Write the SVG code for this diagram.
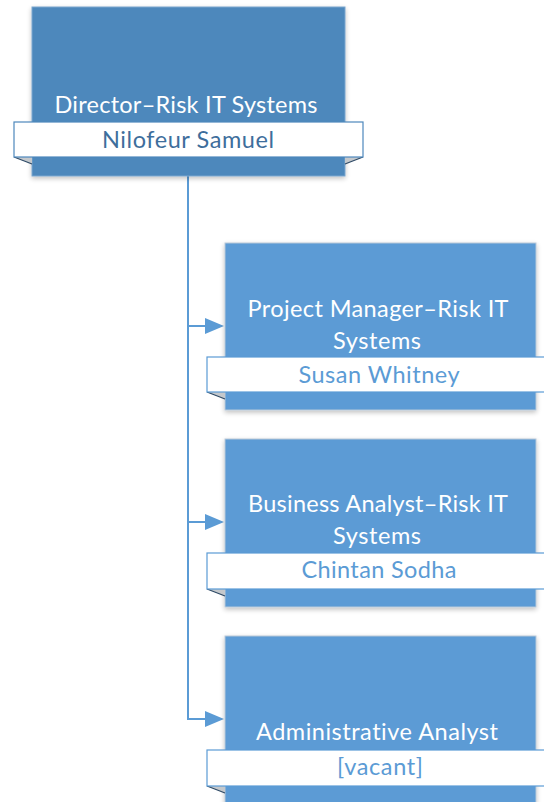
<svg xmlns="http://www.w3.org/2000/svg" width="544" height="802" viewBox="0 0 544 802">
<defs>
<filter id="sh" x="-10%" y="-10%" width="120%" height="120%">
<feGaussianBlur in="SourceAlpha" stdDeviation="2.5"/>
<feOffset dx="0" dy="1.5" result="b"/>
<feComponentTransfer><feFuncA type="linear" slope="0.25"/></feComponentTransfer>
<feMerge><feMergeNode/><feMergeNode in="SourceGraphic"/></feMerge>
</filter>
<marker id="arr" viewBox="0 0 10 10" refX="0" refY="5" markerUnits="userSpaceOnUse" markerWidth="19" markerHeight="16" preserveAspectRatio="none" orient="auto">
<path d="M0 0 L10 5 L0 10 Z" fill="#5B9BD5"/>
</marker>
</defs>
<style>
.dir{fill:#4E88BC;stroke:#7AA6CE;stroke-width:1}
.box{fill:#5B9BD5;stroke:#B8C8D8;stroke-width:1}
.plate{fill:#FFFFFF;stroke:#5B9BD5;stroke-width:1.2}
.dplate{fill:#FFFFFF;stroke:#4E88BC;stroke-width:1.2}
.fold{fill:#C4C8CC;stroke:none}
.foldl{stroke:#2E4A66;stroke-width:1.2;fill:none}
text{font-family:Lato,"Open Sans","Liberation Sans",sans-serif;font-size:23.5px;text-anchor:middle;font-variant-ligatures:none}
.t{fill:#FFFFFF}
.dn{fill:#3E6E9C}
.n{fill:#5B9BD5}
.conn{fill:none;stroke:#5B9BD5;stroke-width:2}
</style>
<g id="connectors">
<path class="conn" d="M188 176 V719"/>
<path class="conn" d="M187 326 H205" marker-end="url(#arr)"/>
<path class="conn" d="M187 522 H205" marker-end="url(#arr)"/>
<path class="conn" d="M187 719 H205" marker-end="url(#arr)"/>
</g>
<g id="director">
<rect class="dir" x="32" y="7" width="313" height="169" filter="url(#sh)"/>
<polygon class="fold" points="14,157 32,157 32,164"/>
<line class="foldl" x1="14" y1="157" x2="32" y2="164"/>
<polygon class="fold" points="363,157 345,157 345,164"/>
<line class="foldl" x1="363" y1="157" x2="345" y2="164"/>
<rect class="dplate" x="14" y="122" width="349" height="35"/>
<text class="t" x="186" y="113" textLength="263">Director–Risk IT Systems</text>
<text class="dn" x="188" y="148" textLength="172">Nilofeur Samuel</text>
</g>
<g id="pm">
<rect class="box" x="225" y="243" width="311" height="167" filter="url(#sh)"/>
<polygon class="fold" points="207,392 225,392 225,399"/>
<line class="foldl" x1="207" y1="392" x2="225" y2="399"/>
<rect class="plate" x="207" y="357" width="347" height="35"/>
<text class="t" x="378" y="317" textLength="261">Project Manager–Risk IT</text>
<text class="t" x="377" y="349" textLength="88">Systems</text>
<text class="n" x="379" y="383" textLength="161">Susan Whitney</text>
</g>
<g id="ba">
<rect class="box" x="225" y="439" width="311" height="168" filter="url(#sh)"/>
<polygon class="fold" points="207,589 225,589 225,596"/>
<line class="foldl" x1="207" y1="589" x2="225" y2="596"/>
<rect class="plate" x="207" y="553" width="347" height="36"/>
<text class="t" x="378" y="512" textLength="260">Business Analyst–Risk IT</text>
<text class="t" x="377" y="544" textLength="88">Systems</text>
<text class="n" x="379" y="578" textLength="155">Chintan Sodha</text>
</g>
<g id="aa">
<rect class="box" x="225" y="636" width="311" height="172" filter="url(#sh)"/>
<polygon class="fold" points="207,786 225,786 225,793"/>
<line class="foldl" x1="207" y1="786" x2="225" y2="793"/>
<rect class="plate" x="207" y="750" width="347" height="36"/>
<text class="t" x="377" y="740" textLength="242">Administrative Analyst</text>
<text class="n" x="380" y="775" textLength="86">[vacant]</text>
</g>
</svg>
